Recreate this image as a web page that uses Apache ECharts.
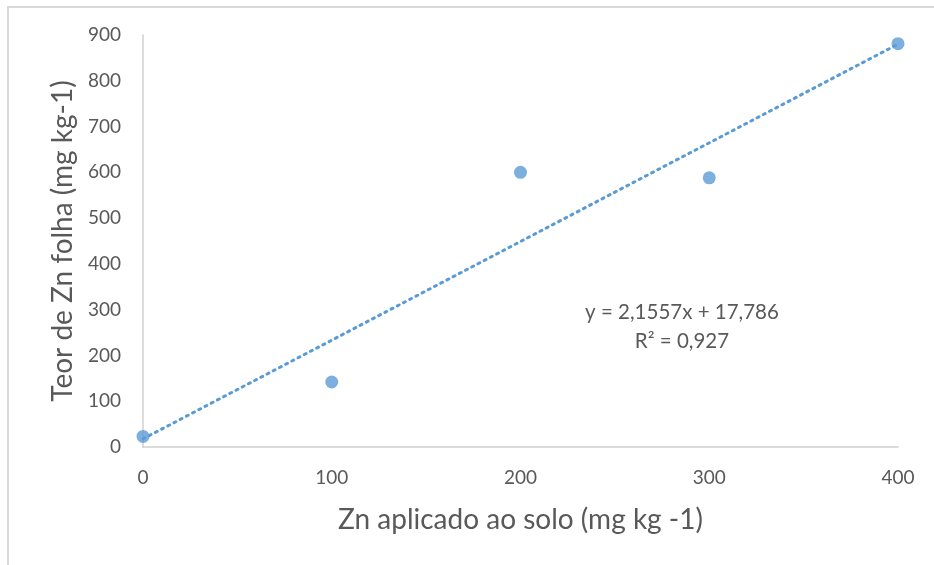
<!DOCTYPE html>
<html>
<head>
<meta charset="utf-8">
<script src="https://cdn.jsdelivr.net/npm/echarts@6/dist/echarts.min.js"></script>
<style>
html,body{margin:0;padding:0;background:#fff;}
#chart{width:934px;height:565px;}
</style>
</head>
<body>
<div id="chart"></div>
<script>
const xValues = [0, 100, 200, 300, 400];
const yValues = [23, 142, 600, 588, 881];
const trendX = [0, 400];
const trendY = [17.786, 880.066];
const equationText = 'y = 2,1557x + 17,786';
const r2Text = 'R² = 0,927';
const xTitle = 'Zn aplicado ao solo (mg kg -1)';
const yTitle = 'Teor de Zn folha (mg kg-1)';

const chart = echarts.init(document.getElementById('chart'));
const font = 'Lato, "Open Sans", sans-serif';
const blue = '#5b9bd5';
chart.setOption({
  animation: false,
  backgroundColor: '#fff',
  grid: {left: 143, right: 36, top: 35, bottom: 118},
  xAxis: {
    type: 'value', min: 0, max: 400, interval: 100,
    name: xTitle, nameLocation: 'middle', nameGap: 59,
    nameTextStyle: {color: '#595959', fontSize: 28, fontFamily: font},
    axisLine: {show: true, lineStyle: {color: '#d0d0d0', width: 1.5}},
    axisTick: {show: false},
    splitLine: {show: false},
    axisLabel: {color: '#595959', fontSize: 19, fontFamily: font, margin: 21}
  },
  yAxis: {
    type: 'value', min: 0, max: 900, interval: 100,
    name: yTitle, nameLocation: 'middle', nameGap: 66,
    nameTextStyle: {color: '#595959', fontSize: 28, fontFamily: font},
    axisLine: {show: true, lineStyle: {color: '#d0d0d0', width: 1.5}},
    axisTick: {show: false},
    splitLine: {show: false},
    axisLabel: {color: '#595959', fontSize: 19, fontFamily: font, margin: 22}
  },
  graphic: [
    {type: 'rect', shape: {x: 8, y: 7, width: 960, height: 600}, style: {fill: 'none', stroke: '#d9d9d9', lineWidth: 2}, silent: true, z: -1},
    {type: 'text', x: 682, y: 312, style: {text: equationText, fill: '#595959', font: '20.5px ' + font, textAlign: 'center', textVerticalAlign: 'middle'}},
    {type: 'text', x: 682, y: 341, style: {text: r2Text, fill: '#595959', font: '20.5px ' + font, textAlign: 'center', textVerticalAlign: 'middle'}}
  ],
  series: [
    {
      type: 'line',
      data: trendX.map((x, i) => [x, trendY[i]]),
      symbol: 'none',
      lineStyle: {color: blue, width: 3, type: [2, 5], cap: 'round'},
      z: 1
    },
    {
      type: 'scatter',
      data: xValues.map((x, i) => [x, yValues[i]]),
      symbol: 'circle', symbolSize: 13,
      itemStyle: {color: blue},
      z: 2
    }
  ]
});
</script>
</body>
</html>
